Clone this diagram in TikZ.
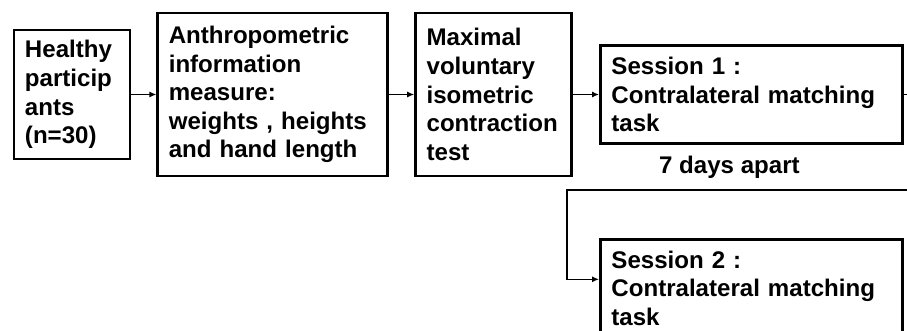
\documentclass[tikz,border=0pt]{standalone}
\usepackage{fontspec}
\setmainfont{Liberation Sans}
\usepackage{tikz}
\usetikzlibrary{arrows.meta,positioning,calc}

\begin{document}
\begin{tikzpicture}[
    every node/.style={font=\fontsize{13.7}{16.3}\selectfont\bfseries},
    stagebox/.style={draw,line width=1.6pt,align=left,inner xsep=0.22cm,inner ysep=0pt},
    flowline/.style={line width=0.8pt,-{Latex[length=4pt,width=3.5pt]}}]
  \clip (0,0) rectangle (18.14,-6.62);
  % study flow, first row
  \node[stagebox,text width=1.88cm,minimum height=2.58cm] (part) at (1.44,-1.89)
    {Healthy\\particip\\ants\\(n=30)};
  \node[stagebox,text width=4.16cm,minimum height=3.26cm,right=0.5cm of part] (anthro)
    {Anthropometric\\information\\measure:\\weights , heights\\and hand length};
  \node[stagebox,text width=2.68cm,minimum height=3.26cm,right=0.5cm of anthro] (mvic)
    {Maximal\\voluntary\\isometric\\contraction\\test};
  \node[stagebox,text width=5.6cm,minimum height=1.96cm,right=0.52cm of mvic] (sess1)
    {Session 1 :\\Contralateral matching\\task};
  \node[below=0.22cm of sess1,xshift=-0.44cm,inner sep=0pt] (gap) {7 days apart};
  % second session
  \node[stagebox,text width=5.6cm,minimum height=1.96cm,below=1.86cm of sess1] (sess2)
    {Session 2 :\\Contralateral matching\\task};
  \coordinate (back) at (11.34,-3.8);
  \draw[flowline] (part) -- (anthro);
  \draw[flowline] (anthro) -- (mvic);
  \draw[flowline] (mvic) -- (sess1);
  \draw[flowline] (sess1.east) -- ++(0.5,0) |- (back) |- ([yshift=0.18cm]sess2.west);
\end{tikzpicture}
\end{document}
